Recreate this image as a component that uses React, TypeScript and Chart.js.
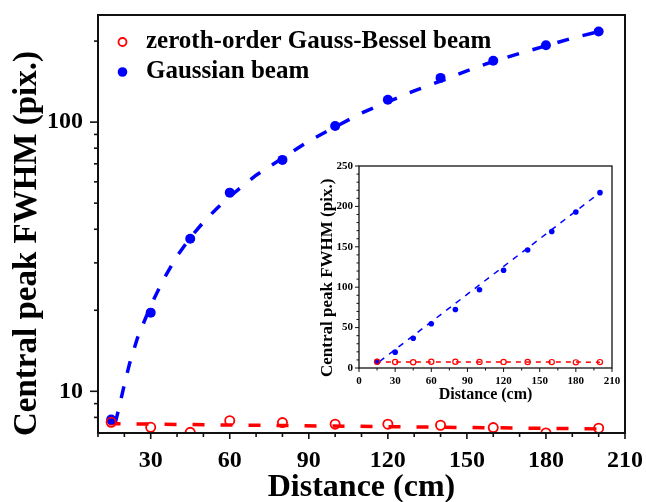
import React, { useEffect, useRef } from 'react';
import { Chart, registerables } from 'chart.js';

Chart.register(...registerables);

// ---------- data ----------
const besselLabel = 'zeroth-order Gauss-Bessel beam';
const gaussLabel = 'Gaussian beam';
const xTitle = 'Distance (cm)';
const yTitle = 'Central peak FWHM (pix.)';

const distances = [15, 30, 45, 60, 80, 100, 120, 140, 160, 180, 200];
const besselFWHM = [7.67, 7.35, 7.04, 7.78, 7.65, 7.55, 7.55, 7.48, 7.33, 7.0, 7.29];
const gaussianFWHM = [7.85, 19.6, 36.9, 54.7, 72.4, 96.8, 121, 146, 169, 193, 217];

// dashed fit curves
const gaussFitX = [16.5, 18, 20, 22, 25, 30, 35, 40, 45, 50, 55, 60, 70, 80, 90, 100, 110, 120, 130, 140, 150, 160, 170, 180, 190, 200];
const gaussFitY = [7.6, 8.7, 10.6, 12.7, 15.8, 20.8, 26.2, 31.8, 37.2, 42.5, 47.7, 52.9, 63.5, 73.5, 85, 96, 108, 119, 130.7, 142, 155, 168, 180, 192, 205, 217];
const besselFitX = [14, 200];
const besselFitY = [7.58, 7.25];
const insetGaussFitX = [17, 200];
const insetGaussFitY = [8, 217];

// ticks
const mainXLabelTicks = [30, 60, 90, 120, 150, 180, 210];
const mainXMinorTicks = [10, 20, 40, 50, 70, 80, 100, 110, 130, 140, 160, 170, 190, 200];
const mainYLabelTicks = [10, 100];
const mainYMinorTicks = [8, 9, 20, 30, 40, 50, 60, 70, 80, 90, 200];
const insetXLabelTicks = [0, 30, 60, 90, 120, 150, 180, 210];
const insetXMinorTicks = [15, 45, 75, 105, 135, 165, 195];
const insetYLabelTicks = [0, 50, 100, 150, 200, 250];
const insetYMinorTicks = [10, 20, 30, 40, 60, 70, 80, 90, 110, 120, 130, 140, 160, 170, 180, 190, 210, 220, 230, 240];

// ---------- style ----------
const FONT = "'Liberation Serif', 'Times New Roman', serif";
const RED = '#ff0000';
const BLUE = '#0000ff';
const INK = '#111111';

const pts = (xs: number[], ys: number[]) => xs.map((x, i) => ({ x, y: ys[i] }));

const zeroPad = (s: any) => {
  s.paddingTop = 0;
  s.paddingBottom = 0;
  s.paddingLeft = 0;
  s.paddingRight = 0;
};

const frameTicks = {
  id: 'frameTicks',
  afterDatasetsDraw(chart: any, _a: any, o: any) {
    const { ctx, chartArea: a } = chart;
    const xs = chart.scales.x;
    const ys = chart.scales.y;
    ctx.save();
    ctx.strokeStyle = INK;
    ctx.lineCap = 'butt';
    ctx.lineWidth = o.tickWidth;
    const vx = (vals: number[], len: number) => {
      for (const v of vals) {
        const p = xs.getPixelForValue(v);
        ctx.beginPath();
        ctx.moveTo(p, a.bottom);
        ctx.lineTo(p, a.bottom + len);
        ctx.stroke();
      }
    };
    const vy = (vals: number[], len: number) => {
      for (const v of vals) {
        const p = ys.getPixelForValue(v);
        ctx.beginPath();
        ctx.moveTo(a.left, p);
        ctx.lineTo(a.left - len, p);
        ctx.stroke();
      }
    };
    vx(o.xMajor, o.xMajorLen);
    vx(o.xMinor, o.xMinorLen);
    vy(o.yMajor, o.yMajorLen);
    vy(o.yMinor, o.yMinorLen);
    ctx.lineWidth = o.frameWidth;
    ctx.strokeRect(a.left, a.top, a.right - a.left, a.bottom - a.top);
    ctx.restore();
  },
};

// rotated y-axis title, starting near the bottom of the plot area
const yAxisTitle = {
  id: 'yAxisTitle',
  afterDraw(chart: any, _a: any, o: any) {
    if (!o || !o.text) return;
    const ctx = chart.ctx;
    const a = chart.chartArea;
    ctx.save();
    ctx.translate(o.x, a.bottom + o.startOffset);
    ctx.rotate(-Math.PI / 2);
    ctx.font = `bold ${o.size}px ${FONT}`;
    ctx.textAlign = 'left';
    ctx.textBaseline = 'middle';
    ctx.fillStyle = '#000';
    ctx.fillText(o.text, 0, 0);
    ctx.restore();
  },
};

const insideLegend = {
  id: 'insideLegend',
  afterDraw(chart: any, _a: any, o: any) {
    if (!o || !o.items) return;
    const ctx = chart.ctx;
    const a = chart.chartArea;
    ctx.save();
    ctx.font = `bold ${o.size}px ${FONT}`;
    ctx.textBaseline = 'middle';
    ctx.textAlign = 'left';
    o.items.forEach((it: any, i: number) => {
      const y = a.top + o.y + i * o.dy;
      const mx = a.left + o.markerX;
      ctx.beginPath();
      ctx.arc(mx, y, it.r, 0, Math.PI * 2);
      if (it.filled) {
        ctx.fillStyle = it.color;
        ctx.fill();
      } else {
        ctx.strokeStyle = it.color;
        ctx.lineWidth = 1.8;
        ctx.stroke();
      }
      ctx.fillStyle = '#000';
      ctx.fillText(it.label, a.left + o.textX, y);
    });
    ctx.restore();
  },
};

export default function App() {
  const mainRef = useRef<HTMLCanvasElement>(null);
  const insetRef = useRef<HTMLCanvasElement>(null);

  useEffect(() => {
    const tickFont = (size: number) => ({ family: FONT, size, weight: 'bold' as const, lineHeight: 1 });
    const noGrid = { display: false, drawTicks: false, tickLength: 0 };

    const main = new Chart(mainRef.current as HTMLCanvasElement, {
      type: 'scatter',
      data: {
        datasets: [
          {
            label: besselLabel,
            data: pts(distances, besselFWHM),
            pointRadius: 4.6,
            pointBorderWidth: 1.8,
            pointBorderColor: RED,
            pointBackgroundColor: 'rgba(0,0,0,0)',
            borderColor: RED,
            backgroundColor: 'rgba(0,0,0,0)',
            showLine: false,
            order: 0,
          },
          {
            label: gaussLabel,
            data: pts(distances, gaussianFWHM),
            pointRadius: 5,
            pointBorderWidth: 0,
            pointBackgroundColor: BLUE,
            borderColor: BLUE,
            backgroundColor: BLUE,
            showLine: false,
            order: 1,
          },
          {
            label: 'Gauss-Bessel fit',
            data: pts(besselFitX, besselFitY),
            showLine: true,
            pointRadius: 0,
            borderColor: RED,
            borderWidth: 3.5,
            borderDash: [12, 16],
            order: 2,
          },
          {
            label: 'Gaussian fit',
            data: pts(gaussFitX, gaussFitY),
            showLine: true,
            pointRadius: 0,
            borderColor: BLUE,
            borderWidth: 3.5,
            borderDash: [12, 14],
            order: 3,
          },
        ],
      },
      options: {
        responsive: false,
        animation: false,
        events: [],
        layout: { autoPadding: false, padding: { left: 0, top: 15, right: 21, bottom: 0 } },
        plugins: {
          legend: { display: false },
          tooltip: { enabled: false },
          frameTicks: {
            tickWidth: 1.6,
            frameWidth: 2,
            xMajor: mainXLabelTicks,
            xMinor: mainXMinorTicks,
            yMajor: mainYLabelTicks,
            yMinor: mainYMinorTicks,
            xMajorLen: 6,
            xMinorLen: 4,
            yMajorLen: 8,
            yMinorLen: 4,
          },
          yAxisTitle: { text: yTitle, size: 33, x: 27, startOffset: 3 },
          insideLegend: {
            size: 25,
            markerX: 24.5,
            textX: 48,
            y: 27,
            dy: 30,
            items: [
              { label: besselLabel, color: RED, filled: false, r: 4 },
              { label: gaussLabel, color: BLUE, filled: true, r: 4.8 },
            ],
          },
        } as any,
        scales: {
          x: {
            type: 'linear',
            min: 10,
            max: 210,
            grid: noGrid,
            border: { display: false },
            afterBuildTicks: (s: any) => {
              s.ticks = mainXLabelTicks.map((v) => ({ value: v }));
            },
            afterFit: (s: any) => {
              s.height = 69;
              zeroPad(s);
            },
            ticks: {
              autoSkip: false,
              maxRotation: 0,
              padding: 16,
              color: '#000',
              font: tickFont(24),
              callback: (v: any) => String(v),
            },
            title: {
              display: true,
              text: xTitle,
              color: '#000',
              font: { family: FONT, size: 32, weight: 'bold', lineHeight: 1 },
              padding: { top: 0, bottom: -2 },
            },
          },
          y: {
            type: 'logarithmic',
            min: 7,
            max: 250,
            grid: noGrid,
            border: { display: false },
            afterBuildTicks: (s: any) => {
              s.ticks = mainYLabelTicks.map((v) => ({ value: v }));
            },
            afterFit: (s: any) => {
              s.width = 98;
              zeroPad(s);
            },
            ticks: {
              autoSkip: false,
              padding: 15,
              color: '#000',
              font: tickFont(24),
              callback: (v: any) => String(v),
            },
            title: { display: false },
          },
        },
      },
      plugins: [frameTicks, yAxisTitle, insideLegend],
    } as any);

    const inset = new Chart(insetRef.current as HTMLCanvasElement, {
      type: 'scatter',
      data: {
        datasets: [
          {
            label: besselLabel,
            data: pts(distances, besselFWHM),
            pointRadius: 2.6,
            pointBorderWidth: 1.2,
            pointBorderColor: RED,
            pointBackgroundColor: 'rgba(0,0,0,0)',
            borderColor: RED,
            showLine: false,
            order: 0,
          },
          {
            label: gaussLabel,
            data: pts(distances, gaussianFWHM),
            pointRadius: 2.8,
            pointBorderWidth: 0,
            pointBackgroundColor: BLUE,
            borderColor: BLUE,
            showLine: false,
            order: 1,
          },
          {
            label: 'Gauss-Bessel fit',
            data: pts(besselFitX, besselFitY),
            showLine: true,
            pointRadius: 0,
            borderColor: RED,
            borderWidth: 1.5,
            borderDash: [5, 5],
            order: 2,
          },
          {
            label: 'Gaussian fit',
            data: pts(insetGaussFitX, insetGaussFitY),
            showLine: true,
            pointRadius: 0,
            borderColor: BLUE,
            borderWidth: 1.5,
            borderDash: [6, 6],
            order: 3,
          },
        ],
      },
      options: {
        responsive: false,
        animation: false,
        events: [],
        layout: { autoPadding: false, padding: { left: 0, top: 16, right: 18, bottom: 0 } },
        plugins: {
          legend: { display: false },
          tooltip: { enabled: false },
          frameTicks: {
            tickWidth: 1,
            frameWidth: 1.3,
            xMajor: insetXLabelTicks,
            xMinor: insetXMinorTicks,
            yMajor: insetYLabelTicks,
            yMinor: insetYMinorTicks,
            xMajorLen: 4,
            xMinorLen: 2.5,
            yMajorLen: 4,
            yMinorLen: 2.5,
          },
          yAxisTitle: { text: yTitle, size: 17, x: 38, startOffset: 9 },
        } as any,
        scales: {
          x: {
            type: 'linear',
            min: 0,
            max: 210,
            grid: noGrid,
            border: { display: false },
            afterBuildTicks: (s: any) => {
              s.ticks = insetXLabelTicks.map((v) => ({ value: v }));
            },
            afterFit: (s: any) => {
              s.height = 42;
              zeroPad(s);
            },
            ticks: {
              autoSkip: false,
              maxRotation: 0,
              padding: 8,
              color: '#000',
              font: tickFont(11),
              callback: (v: any) => String(v),
            },
            title: {
              display: true,
              text: xTitle,
              color: '#000',
              font: { family: FONT, size: 16, weight: 'bold', lineHeight: 1 },
              padding: { top: 0, bottom: 7 },
            },
          },
          y: {
            type: 'linear',
            min: 0,
            max: 250,
            grid: noGrid,
            border: { display: false },
            afterBuildTicks: (s: any) => {
              s.ticks = insetYLabelTicks.map((v) => ({ value: v }));
            },
            afterFit: (s: any) => {
              s.width = 69;
              zeroPad(s);
            },
            ticks: {
              autoSkip: false,
              padding: 6,
              color: '#000',
              font: tickFont(11),
              callback: (v: any) => String(v),
            },
            title: { display: false },
          },
        },
      },
      plugins: [frameTicks, yAxisTitle],
    } as any);

    return () => {
      main.destroy();
      inset.destroy();
    };
  }, []);

  return (
    <div style={{ position: 'fixed', left: 0, top: 0, width: 646, height: 502, background: '#fff' }}>
      <canvas ref={mainRef} width={646} height={502} style={{ position: 'absolute', left: 0, top: 0, width: 646, height: 502, display: 'block' }} />
      <canvas ref={insetRef} width={340} height={260} style={{ position: 'absolute', left: 290, top: 150, width: 340, height: 260, display: 'block' }} />
    </div>
  );
}
